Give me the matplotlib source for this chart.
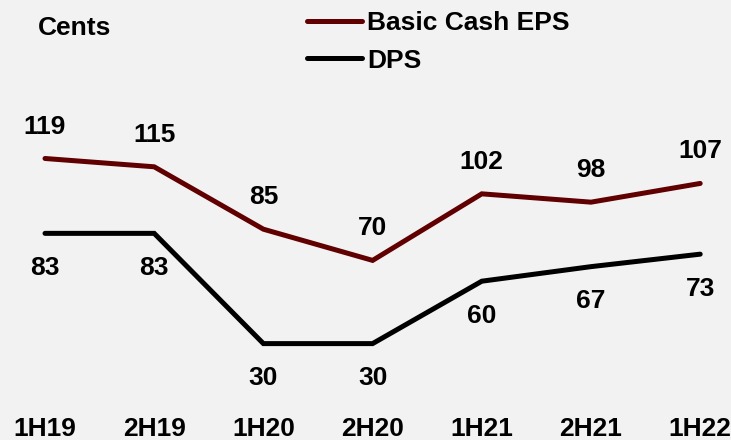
import matplotlib
matplotlib.use("Agg")
import matplotlib.pyplot as plt

periods = ["1H19", "2H19", "1H20", "2H20", "1H21", "2H21", "1H22"]
eps = [119, 115, 85, 70, 102, 98, 107]
dps = [83, 83, 30, 30, 60, 67, 73]

bg = "#f2f2f2"
red = "#600000"
plt.rcParams['font.family'] = ['Liberation Sans', 'DejaVu Sans']
FS = 19

W, H = 731, 440
fig = plt.figure(figsize=(W / 100, H / 100), dpi=100, facecolor=bg)
ax = fig.add_axes([0, (H - 406) / H, 1, 406 / H], facecolor=bg)
x = list(range(len(periods)))
ax.plot(x, eps, color=red, lw=3.6, solid_capstyle='round', solid_joinstyle='miter', label="Basic Cash EPS")
ax.plot(x, dps, color="black", lw=3.6, solid_capstyle='round', solid_joinstyle='miter', label="DPS")

for xi, v in zip(x, eps):
    ax.annotate(str(v), (xi, v), xytext=(0, 23), textcoords='offset points',
                ha='center', va='center', fontsize=FS, fontweight='bold')
for xi, v in zip(x, dps):
    ax.annotate(str(v), (xi, v), xytext=(0, -25), textcoords='offset points',
                ha='center', va='center', fontsize=FS, fontweight='bold')

x0 = -45 / 109.2
x1 = (W - 45) / 109.2
ax.set_xlim(x0, x1)
ax.set_ylim(0, 406 / 2.08)
ax.set_xticks(x)
ax.set_xticklabels(periods, fontsize=FS, fontweight='bold')
ax.tick_params(axis='x', length=0, pad=8)
ax.set_yticks([])
for s in ax.spines.values():
    s.set_visible(False)

fig.text(38 / W, 1 - 28 / H, "Cents", ha='left', va='center', fontsize=FS, fontweight='bold')

leg = ax.legend(loc='upper left', bbox_to_anchor=(307 / W, 1 - 11 / H), bbox_transform=fig.transFigure,
                frameon=False, prop={'weight': 'bold', 'size': FS},
                handlelength=2.08, handletextpad=0.2, labelspacing=0.52, borderpad=0, borderaxespad=0)

fig.savefig("out.png", dpi=100, facecolor=bg)
